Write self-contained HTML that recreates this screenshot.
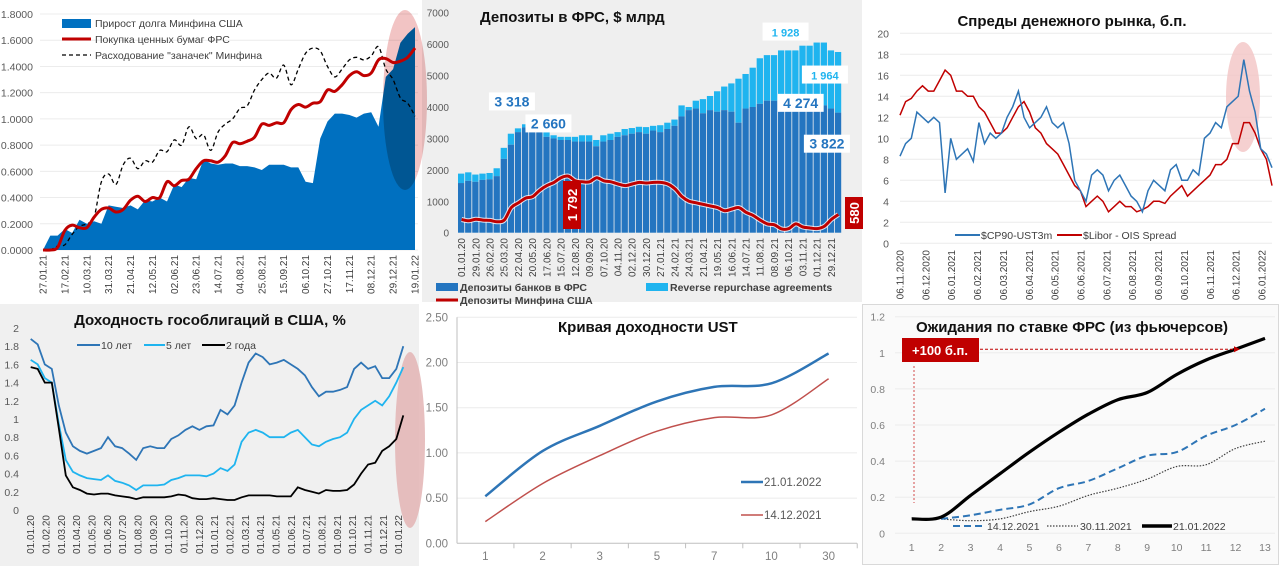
<!DOCTYPE html>
<html><head><meta charset="utf-8">
<style>
html,body{margin:0;padding:0;background:#fff;}
svg{display:block;font-family:"Liberation Sans","DejaVu Sans",sans-serif;}
.t{font-weight:bold;font-size:15px;fill:#111;}
.ax{font-size:10px;fill:#595959;}
.lg{font-size:10.5px;fill:#404040;}
</style></head>
<body>
<svg id="root" width="1280" height="566" viewBox="0 0 1280 566">
  <rect x="0" y="0" width="1280" height="566" fill="#ffffff"/>
  <rect x="422" y="0" width="440" height="302" fill="#efefef"/>
  <rect x="0" y="304" width="419" height="262" fill="#f0f0f0"/>
  <rect x="421" y="304" width="439" height="262" fill="#ffffff"/>
  <rect x="862.5" y="304.5" width="416" height="260" fill="#fafafa" stroke="#d9d9d9"/>
  <g id="c1"></g>
  <g id="c2"></g>
  <g id="c3"></g>
  <g id="c4"></g>
  <g id="c5"></g>
  <g id="c6"></g>

  <!-- chart 1 legend -->
  <rect x="62" y="19" width="29" height="9" fill="#0070c0"/>
  <text x="95" y="27" class="lg">Прирост долга Минфина США</text>
  <line x1="62" y1="39" x2="91" y2="39" stroke="#c00000" stroke-width="3"/>
  <text x="95" y="43" class="lg">Покупка ценных бумаг ФРС</text>
  <line x1="62" y1="55" x2="91" y2="55" stroke="#000" stroke-width="1.3" stroke-dasharray="4,3"/>
  <text x="95" y="59" class="lg">Расходование "заначек" Минфина</text>

  <!-- chart 2 -->
  <text x="480" y="22" class="t">Депозиты в ФРС, $ млрд</text>
  <rect x="436" y="283" width="22" height="8" fill="#2475c0"/>
  <text x="460" y="291" class="lg" font-weight="bold">Депозиты банков в ФРС</text>
  <rect x="646" y="283" width="22" height="8" fill="#1fb4ef"/>
  <text x="670" y="291" class="lg" font-weight="bold">Reverse repurchase agreements</text>
  <line x1="436" y1="300" x2="458" y2="300" stroke="#c00000" stroke-width="3"/>
  <text x="460" y="304" class="lg" font-weight="bold">Депозиты Минфина США</text>

  <!-- chart 3 -->
  <text x="1072" y="26" class="t" text-anchor="middle">Спреды денежного рынка, б.п.</text>
  <line x1="955" y1="235" x2="980" y2="235" stroke="#2e75b6" stroke-width="2"/>
  <text x="981" y="239" class="lg">$CP90-UST3m</text>
  <line x1="1057" y1="235" x2="1082" y2="235" stroke="#c00000" stroke-width="2"/>
  <text x="1083" y="239" class="lg">$Libor - OIS Spread</text>

  <!-- chart 4 -->
  <text x="210" y="325" class="t" text-anchor="middle">Доходность гособлигаций в США, %</text>
  <line x1="77" y1="345" x2="100" y2="345" stroke="#2e75b6" stroke-width="2"/>
  <text x="101" y="349" class="lg">10 лет</text>
  <line x1="144" y1="345" x2="165" y2="345" stroke="#1fb4ef" stroke-width="2"/>
  <text x="166" y="349" class="lg">5 лет</text>
  <line x1="202" y1="345" x2="225" y2="345" stroke="#000" stroke-width="2"/>
  <text x="226" y="349" class="lg">2 года</text>

  <!-- chart 5 -->
  <text x="558" y="332" class="t">Кривая доходности UST</text>
  <line x1="741" y1="482" x2="763" y2="482" stroke="#2e75b6" stroke-width="2.5"/>
  <text x="764" y="486" font-size="11.5" fill="#595959">21.01.2022</text>
  <line x1="741" y1="515" x2="763" y2="515" stroke="#c0504d" stroke-width="1.5"/>
  <text x="764" y="519" font-size="11.5" fill="#595959">14.12.2021</text>

  <!-- chart 6 -->
  <text x="916" y="332" class="t">Ожидания по ставке ФРС (из фьючерсов)</text>
  <line x1="953" y1="526" x2="986" y2="526" stroke="#2e75b6" stroke-width="2" stroke-dasharray="7,4"/>
  <text x="987" y="530" class="lg" fill="#595959">14.12.2021</text>
  <line x1="1047" y1="526" x2="1078" y2="526" stroke="#404040" stroke-width="1.2" stroke-dasharray="1.5,1.5"/>
  <text x="1080" y="530" class="lg">30.11.2021</text>
  <line x1="1142" y1="526" x2="1172" y2="526" stroke="#000" stroke-width="3.5"/>
  <text x="1173" y="530" class="lg">21.01.2022</text>
</svg>
<script>
// ---------- DATA ----------
const debtWeeks = [0,0.11,0.11,0.16,0.13,0.23,0.20,0.22,0.20,0.34,0.33,0.32,0.34,0.31,0.38,0.37,0.40,0.37,0.50,0.48,0.55,0.54,0.69,0.66,0.65,0.66,0.66,0.64,0.64,0.63,0.61,0.65,0.65,0.65,0.63,0.63,0.52,0.51,0.85,0.98,1.04,1.04,1.03,1.01,1.04,1.05,0.94,1.32,1.38,1.58,1.65,1.70];
const fedBuy = [0,0,0.02,0.15,0.19,0.17,0.17,0.25,0.31,0.32,0.29,0.31,0.38,0.41,0.37,0.40,0.40,0.52,0.49,0.53,0.54,0.62,0.68,0.68,0.67,0.72,0.82,0.81,0.83,0.86,0.96,0.95,0.97,0.97,1.07,1.11,1.09,1.12,1.13,1.22,1.21,1.26,1.33,1.36,1.33,1.35,1.45,1.46,1.43,1.44,1.47,1.54];
const stashSpend = [0,0,0.03,0.04,0.12,0.18,0.20,0.25,0.52,0.58,0.50,0.65,0.70,0.62,0.68,0.67,0.76,0.75,0.84,0.80,0.94,0.85,0.88,0.76,0.90,0.96,1.00,1.08,1.10,1.22,1.30,1.35,1.31,1.41,1.26,1.38,1.50,1.54,1.52,1.40,1.32,1.38,1.45,1.47,1.45,1.48,1.55,1.38,1.30,1.16,1.12,1.02];
const c1Ticks = [0,0.2,0.4,0.6,0.8,1.0,1.2,1.4,1.6,1.8];
const c1Labels = ["27.01.21","17.02.21","10.03.21","31.03.21","21.04.21","12.05.21","02.06.21","23.06.21","14.07.21","04.08.21","25.08.21","15.09.21","06.10.21","27.10.21","17.11.21","08.12.21","29.12.21","19.01.22"];

const depTotal = [1880,1920,1850,1880,1900,2050,2700,3150,3320,3450,3550,3450,3200,3100,3050,3050,3050,3100,3100,2950,3100,3150,3200,3300,3330,3370,3360,3400,3420,3500,3600,4050,4000,4200,4250,4350,4500,4650,4750,4900,5050,5250,5550,5650,5650,5800,5800,5800,5950,5950,6050,6050,5800,5750];
const depBanks = [1580,1650,1620,1680,1700,1800,2350,2800,3200,3350,3350,3300,3050,3000,2950,2950,2900,2900,2900,2750,2900,2950,3050,3100,3150,3200,3150,3250,3200,3300,3400,3700,3900,3950,3800,3900,3850,3900,3850,3500,3950,4000,4100,4200,4200,4100,4150,4150,4200,4250,4250,4050,3950,3820];
const depTreasury = [420,380,430,400,390,350,400,800,950,1100,1150,1350,1500,1600,1750,1800,1650,1620,1620,1750,1650,1620,1550,1500,1550,1600,1580,1600,1600,1550,1400,1150,1000,950,900,850,800,700,750,800,650,550,400,280,250,120,130,280,180,150,130,200,420,580];
const c2Ticks = [0,1000,2000,3000,4000,5000,6000,7000];
const c2Labels = ["01.01.20","29.01.20","26.02.20","25.03.20","22.04.20","20.05.20","17.06.20","15.07.20","12.08.20","09.09.20","07.10.20","04.11.20","02.12.20","30.12.20","27.01.21","24.02.21","24.03.21","21.04.21","19.05.21","16.06.21","14.07.21","11.08.21","08.09.21","06.10.21","03.11.21","01.12.21","29.12.21"];
const c2Notes = [{t:"3 318",i:8,v:3318,c:"#2475c0",dx:-3,dy:-26},{t:"2 660",i:13,v:3000,c:"#2475c0",dx:-2,dy:-14},{t:"1 928",i:50,v:6050,c:"#1fb4ef",dx:-28,dy:-10},{t:"1 964",i:53,v:5000,c:"#1fb4ef",dx:-10,dy:0},{t:"4 274",i:51,v:4100,c:"#2475c0",dx:-20,dy:0},{t:"3 822",i:53,v:2800,c:"#2475c0",dx:-8,dy:0}];

const cpSpread = [8.3,9.5,10.0,12.5,12.0,11.5,12.0,11.5,4.8,10.0,8.0,8.5,9.0,7.8,11.5,9.5,10.5,10.0,10.5,12.0,13.0,14.5,12.0,11.0,11.5,12.0,13.0,11.5,11.0,11.5,9.5,6.0,5.0,4.0,6.5,7.0,6.5,5.0,6.0,6.5,5.5,4.5,4.0,3.0,5.0,6.0,5.5,5.0,7.0,7.5,6.0,6.0,7.0,6.5,10.0,10.5,11.5,11.0,13.0,13.5,14.0,17.5,14.5,12.5,9.0,8.5,7.2];
const liborOis = [12.2,13.5,13.8,14.5,15.0,14.5,14.5,15.5,16.5,16.0,14.5,14.5,14.0,14.0,13.0,12.5,11.5,10.5,10.5,11.0,12.0,13.0,13.5,12.5,11.0,10.5,9.5,9.0,8.5,7.5,6.5,5.5,5.0,3.5,4.0,4.5,4.0,3.0,3.5,4.0,3.5,3.5,3.0,3.2,3.5,4.0,4.0,3.8,4.5,5.0,5.5,4.5,5.0,5.5,6.0,6.5,7.5,7.5,8.0,9.5,9.5,11.5,11.5,10.5,9.0,8.0,5.5];
const c3Ticks = [0,2,4,6,8,10,12,14,16,18,20];
const c3Labels = ["06.11.2020","06.12.2020","06.01.2021","06.02.2021","06.03.2021","06.04.2021","06.05.2021","06.06.2021","06.07.2021","06.08.2021","06.09.2021","06.10.2021","06.11.2021","06.12.2021","06.01.2022"];

const y10 = [1.88,1.82,1.60,1.55,1.15,0.85,0.70,0.65,0.62,0.65,0.68,0.80,0.70,0.68,0.62,0.55,0.68,0.70,0.68,0.68,0.78,0.82,0.88,0.92,0.88,0.92,0.93,1.10,1.05,1.15,1.40,1.62,1.72,1.68,1.60,1.62,1.65,1.60,1.55,1.48,1.35,1.25,1.30,1.30,1.32,1.35,1.55,1.62,1.55,1.58,1.45,1.45,1.55,1.80];
const y5 = [1.65,1.60,1.45,1.40,0.95,0.55,0.42,0.38,0.35,0.34,0.33,0.38,0.32,0.30,0.27,0.22,0.27,0.27,0.27,0.28,0.33,0.35,0.38,0.38,0.38,0.37,0.40,0.46,0.43,0.50,0.75,0.85,0.88,0.85,0.80,0.80,0.80,0.85,0.88,0.80,0.72,0.70,0.75,0.78,0.80,0.85,1.00,1.10,1.15,1.20,1.15,1.25,1.40,1.57];
const y2 = [1.57,1.55,1.40,1.40,0.90,0.38,0.25,0.22,0.18,0.17,0.18,0.18,0.16,0.15,0.14,0.12,0.14,0.14,0.14,0.14,0.15,0.17,0.16,0.13,0.12,0.12,0.13,0.12,0.11,0.11,0.14,0.16,0.16,0.16,0.16,0.15,0.15,0.15,0.25,0.22,0.20,0.18,0.22,0.21,0.21,0.22,0.28,0.40,0.50,0.52,0.65,0.70,0.78,1.04];
const c4Ticks = [0,0.2,0.4,0.6,0.8,1,1.2,1.4,1.6,1.8,2];
const c4Labels = ["01.01.20","01.02.20","01.03.20","01.04.20","01.05.20","01.06.20","01.07.20","01.08.20","01.09.20","01.10.20","01.11.20","01.12.20","01.01.21","01.02.21","01.03.21","01.04.21","01.05.21","01.06.21","01.07.21","01.08.21","01.09.21","01.10.21","01.11.21","01.12.21","01.01.22"];

const tenors = ["1","2","3","5","7","10","30"];
const curve2022 = [0.52,1.02,1.30,1.57,1.73,1.77,2.10];
const curve2021 = [0.24,0.66,0.97,1.24,1.39,1.42,1.82];
const c5Ticks = [0,0.5,1.0,1.5,2.0,2.5];

const meetings = [1,2,3,4,5,6,7,8,9,10,11,12,13];
const fut2201 = [0.08,0.09,0.21,0.33,0.45,0.56,0.66,0.74,0.78,0.88,0.96,1.02,1.08];
const fut1412 = [null,0.08,0.10,0.13,0.16,0.25,0.29,0.36,0.43,0.45,0.54,0.60,0.69];
const fut3011 = [null,0.08,0.07,0.08,0.12,0.15,0.21,0.25,0.30,0.37,0.38,0.47,0.51];
const c6Ticks = [0,0.2,0.4,0.6,0.8,1,1.2];

// ---------- HELPERS ----------
const NS = 'http://www.w3.org/2000/svg';
function mk(tag, attrs, parent, text) {
  const e = document.createElementNS(NS, tag);
  for (const k in attrs) e.setAttribute(k, attrs[k]);
  if (text != null) e.textContent = text;
  parent.appendChild(e);
  return e;
}
function lin(pts) { return pts.map((p, i) => (i ? 'L' : 'M') + p[0].toFixed(1) + ',' + p[1].toFixed(1)).join(''); }
function smooth(pts) {
  let d = 'M' + pts[0][0].toFixed(1) + ',' + pts[0][1].toFixed(1);
  for (let i = 0; i < pts.length - 1; i++) {
    const p0 = pts[i - 1] || pts[i], p1 = pts[i], p2 = pts[i + 1], p3 = pts[i + 2] || p2;
    const c1 = [p1[0] + (p2[0] - p0[0]) / 6, p1[1] + (p2[1] - p0[1]) / 6];
    const c2 = [p2[0] - (p3[0] - p1[0]) / 6, p2[1] - (p3[1] - p1[1]) / 6];
    d += 'C' + c1[0].toFixed(1) + ',' + c1[1].toFixed(1) + ' ' + c2[0].toFixed(1) + ',' + c2[1].toFixed(1) + ' ' + p2[0].toFixed(1) + ',' + p2[1].toFixed(1);
  }
  return d;
}
function rotLabel(g, x, y, t, fs, fill) {
  return mk('text', {x: x, y: y, transform: 'rotate(-90 ' + x + ' ' + y + ')', 'text-anchor': 'end', 'font-size': fs, fill: fill}, g, t);
}

// ---------- CHART 1 ----------
(function () {
  const g = document.getElementById('c1');
  const x = i => 43 + i * (415 - 43) / (debtWeeks.length - 1);
  const y = v => 250 - v / 1.8 * 236;
  c1Ticks.forEach(v => {
    const gl = mk('line', {x1: 40, x2: 418, y1: y(v), y2: y(v), stroke: '#ececec', 'stroke-width': 1}, g);
    
    
    const t = mk('text', {x: 33, y: y(v) + 4, 'text-anchor': 'end', 'font-size': 10.5, fill: '#595959'}, g, v.toFixed(4));
    
    
  });
  const pts = debtWeeks.map((v, i) => [x(i), y(v)]);
  const area = mk('path', {d: lin([[x(0), y(0)]].concat(pts, [[x(debtWeeks.length - 1), y(0)]])) + 'Z', fill: '#0070c0'}, g);
  
  
  const ell = mk('ellipse', {cx: 405, cy: 100, rx: 22, ry: 90, fill: '#f2c4c4', style: 'mix-blend-mode:multiply'}, g);
  
  
  const st = mk('path', {d: smooth(stashSpend.map((v, i) => [x(i), y(v)])), fill: 'none', stroke: '#000', 'stroke-width': 1.3, 'stroke-dasharray': '4,3'}, g);
  
  
  const rd = mk('path', {d: smooth(fedBuy.map((v, i) => [x(i), y(v)])), fill: 'none', stroke: '#c00000', 'stroke-width': 3}, g);
  
  
  c1Labels.forEach((t, k) => {
    const lb = rotLabel(g, x(k * 3) + 3.5, 255, t, 10, '#404040');
    
    
  });
})();

// ---------- CHART 2 ----------
(function () {
  const g = document.getElementById('c2');
  const step = (842 - 458) / depTotal.length;
  const x = i => 458 + i * step;
  const y = v => 232.7 - v / 1000 * 31.43;
  c2Ticks.forEach(v => {
    const t = mk('text', {x: 449, y: y(v) + 4, 'text-anchor': 'end', 'font-size': 10, fill: '#595959'}, g, String(v));
    
    
  });
  depTotal.forEach((v, i) => {
    const b1 = mk('rect', {x: x(i), y: y(v), width: step - 0.8, height: y(depBanks[i]) - y(v), fill: '#1fb4ef'}, g);
    
    
    const b2 = mk('rect', {x: x(i), y: y(depBanks[i]), width: step - 0.8, height: y(0) - y(depBanks[i]), fill: '#2475c0'}, g);
    
    
  });
  const tp = depTreasury.map((v, i) => [x(i) + step / 2, y(v)]);
  const halo = mk('path', {d: smooth(tp), fill: 'none', stroke: '#ffffff', 'stroke-width': 5, opacity: 0.8}, g);
  
  
  const rl = mk('path', {d: smooth(tp), fill: 'none', stroke: '#c00000', 'stroke-width': 3}, g);
  
  
  c2Labels.forEach((t, k) => {
    const lb = rotLabel(g, x(k * 2) + step / 2 + 3.5, 238, t, 10, '#404040');
    
    
  });
  c2Notes.forEach(n => {
    const cx = x(n.i) + n.dx, cy = y(n.v) + n.dy;
    const w = n.t.length * 8 + 6;
    const r = mk('rect', {x: cx - w / 2, y: cy - 10, width: w, height: 18, fill: '#fff'}, g);
    
    
    const t = mk('text', {x: cx, y: cy + 4, 'text-anchor': 'middle', 'font-size': n.c === '#1fb4ef' ? 11 : 14, 'font-weight': 'bold', fill: n.c}, g, n.t);
    
    
  });
  // red vertical labels
  [[{t: '1 792', cx: 572, cy: 205}], [{t: '580', cx: 854, cy: 213}]].forEach(a => {
    const n = a[0];
    const w = n.t.length * 8 + 8;
    const r = mk('rect', {x: n.cx - 9, y: n.cy - w / 2, width: 18, height: w, fill: '#c00000'}, g);
    
    
    const t = mk('text', {x: n.cx + 5, y: n.cy, transform: 'rotate(-90 ' + (n.cx + 5) + ' ' + n.cy + ')', 'text-anchor': 'middle', 'font-size': 13, 'font-weight': 'bold', fill: '#fff'}, g, n.t);
    
    
  });
})();

// ---------- CHART 3 ----------
(function () {
  const g = document.getElementById('c3');
  const x = i => 900 + i * (1272 - 900) / (cpSpread.length - 1);
  const y = v => 243.3 - v * 10.5;
  c3Ticks.forEach(v => {
    const gl = mk('line', {x1: 900, x2: 1272, y1: y(v), y2: y(v), stroke: '#ebebeb'}, g);
    
    
    const t = mk('text', {x: 889, y: y(v) + 4, 'text-anchor': 'end', 'font-size': 10.5, fill: '#595959'}, g, String(v));
    
    
  });
  const ell = mk('ellipse', {cx: 1243, cy: 97, rx: 17, ry: 55, fill: '#f2c4c4', opacity: 0.8}, g);
  
  
  const rl = mk('path', {d: lin(liborOis.map((v, i) => [x(i), y(v)])), fill: 'none', stroke: '#c00000', 'stroke-width': 1.5}, g);
  
  
  const bl = mk('path', {d: lin(cpSpread.map((v, i) => [x(i), y(v)])), fill: 'none', stroke: '#2e75b6', 'stroke-width': 1.5}, g);
  
  
  c3Labels.forEach((t, m) => {
    const lb = rotLabel(g, 900 + m * 25.86 + 3.5, 250, t, 10, '#404040');
    
    
  });
})();

// ---------- CHART 4 ----------
(function () {
  const g = document.getElementById('c4');
  const x = i => 30.7 + i * 7.03;
  const y = v => 510 - v * 91;
  c4Ticks.forEach(v => {
    const t = mk('text', {x: 19, y: y(v) + 4, 'text-anchor': 'end', 'font-size': 10.5, fill: '#595959'}, g, String(v));
    
    
  });
  const ell = mk('ellipse', {cx: 410, cy: 440, rx: 15, ry: 88, fill: '#e3b4b4', opacity: 0.85}, g);
  
  
  [[y10, '#2e75b6', 'line-10y'], [y5, '#1fb4ef', 'line-5y'], [y2, '#000000', 'line-2y']].forEach(s => {
    const p = mk('path', {d: lin(s[0].map((v, i) => [x(i), y(v)])), fill: 'none', stroke: s[1], 'stroke-width': 1.8}, g);
    
    
  });
  c4Labels.forEach((t, m) => {
    const lb = rotLabel(g, 30.7 + m * 15.33 + 3.5, 515, t, 10, '#404040');
    
    
  });
})();

// ---------- CHART 5 ----------
(function () {
  const g = document.getElementById('c5');
  const bw = 57.22;
  const x = i => 456.7 + bw / 2 + i * bw;
  const y = v => 543.3 - v * 90.4;
  c5Ticks.forEach(v => {
    const gl = mk('line', {x1: 457, x2: 857, y1: y(v), y2: y(v), stroke: v === 0 ? '#bfbfbf' : '#ebebeb'}, g);
    
    
    const t = mk('text', {x: 448, y: y(v) + 4, 'text-anchor': 'end', 'font-size': 11.5, fill: '#7f7f7f'}, g, v.toFixed(2));
    
    
  });
  const ax = mk('line', {x1: 457, x2: 457, y1: y(2.5), y2: y(0), stroke: '#bfbfbf'}, g);
  
  
  tenors.forEach((t, i) => {
    const tk = mk('line', {x1: 456.7 + (i + 1) * bw, x2: 456.7 + (i + 1) * bw, y1: y(0), y2: y(0) + 5, stroke: '#bfbfbf'}, g);
    
    
    const lb = mk('text', {x: x(i), y: 560, 'text-anchor': 'middle', 'font-size': 11.5, fill: '#7f7f7f'}, g, t);
    
    
  });
  const r = mk('path', {d: smooth(curve2021.map((v, i) => [x(i), y(v)])), fill: 'none', stroke: '#c0504d', 'stroke-width': 1.5}, g);
  
  
  const b = mk('path', {d: smooth(curve2022.map((v, i) => [x(i), y(v)])), fill: 'none', stroke: '#2e75b6', 'stroke-width': 2.5}, g);
  
  
})();

// ---------- CHART 6 ----------
(function () {
  const g = document.getElementById('c6');
  const x = k => 911.7 + (k - 1) * 29.44;
  const y = v => 533.3 - v * 180.5;
  c6Ticks.forEach(v => {
    const gl = mk('line', {x1: 895, x2: 1275, y1: y(v), y2: y(v), stroke: '#ececec'}, g);
    
    
    const t = mk('text', {x: 885, y: y(v) + 4, 'text-anchor': 'end', 'font-size': 10.5, fill: '#7f7f7f'}, g, String(v));
    
    
  });
  meetings.forEach(k => {
    const lb = mk('text', {x: x(k), y: 551, 'text-anchor': 'middle', 'font-size': 10.5, fill: '#7f7f7f'}, g, String(k));
    
    
  });
  const pts = arr => arr.map((v, i) => v == null ? null : [x(meetings[i]), y(v)]).filter(p => p);
  const d3 = mk('path', {d: smooth(pts(fut3011)), fill: 'none', stroke: '#404040', 'stroke-width': 1.2, 'stroke-dasharray': '1.5,1.5'}, g);
  
  
  const d1 = mk('path', {d: smooth(pts(fut1412)), fill: 'none', stroke: '#2e75b6', 'stroke-width': 2, 'stroke-dasharray': '7,4'}, g);
  
  
  const d2 = mk('path', {d: smooth(pts(fut2201)), fill: 'none', stroke: '#000', 'stroke-width': 3.2}, g);
  
  
  const hv = y(1.02);
  const hl = mk('line', {x1: 980, x2: 1238, y1: hv, y2: hv, stroke: '#c00000', 'stroke-width': 1, 'stroke-dasharray': '3,2'}, g);
  
  
  const ah = mk('path', {d: 'M1240,' + hv + 'l-6,-3v6z', fill: '#c00000'}, g);
  
  
  const vl = mk('line', {x1: 914, x2: 914, y1: 366, y2: 503, stroke: '#c00000', 'stroke-width': 1, 'stroke-dasharray': '2,2', opacity: 0.7}, g);
  
  
  const box = mk('rect', {x: 902, y: 338, width: 77, height: 24, fill: '#c00000'}, g);
  
  
  const bt = mk('text', {x: 940, y: 355, 'text-anchor': 'middle', 'font-size': 13, 'font-weight': 'bold', fill: '#fff'}, g, '+100 б.п.');
  
  
})();
</script>
</body></html>
